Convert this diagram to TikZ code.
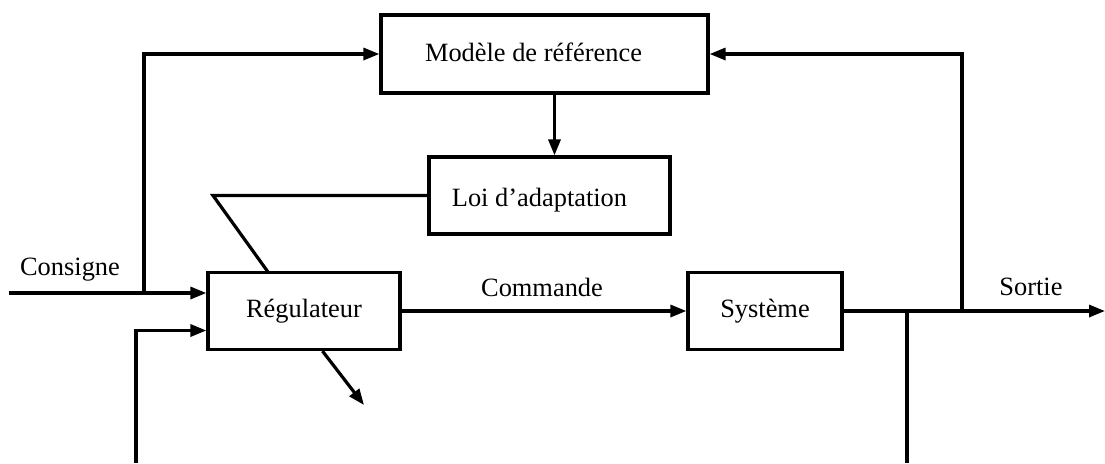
\documentclass[tikz,border=0pt]{standalone}
\usepackage{fontspec}
\setmainfont{Liberation Serif}
\usepackage{tikz}
\usetikzlibrary{arrows.meta,positioning}

\begin{document}
\begin{tikzpicture}[x=0.5pt,y=-0.5pt,line width=1.6pt,
  font=\fontsize{13.2}{16}\selectfont,
  bloc/.style={draw,rectangle,inner sep=0pt,minimum height=38.5pt},
  fleche/.style={-{Triangle[length=8pt,width=6pt]}}]
\useasboundingbox (0,0) rectangle (1105,463);
\node[bloc,minimum width=163.5pt,minimum height=39pt,
  label={[xshift=-5.5pt,yshift=1pt]center:Modèle de référence}] (modele) at (544.5,54) {};
\node[bloc,minimum width=120.5pt,
  label={[xshift=-5pt,yshift=-2.2pt]center:Loi d’adaptation}] (loi) at (549.5,195.5) {};
\node[bloc,minimum width=96pt] (reg) at (304,311) {Régulateur};
\node[bloc,minimum width=77pt] (sys) at (765,311) {Système};
\node (consigne) at (70,270) {Consigne};
\node (commande) at (542,287) {Commande};
\node (sortie) at (1031,287) {Sortie};
\coordinate (entree) at (9,293);
\coordinate (b1) at (144,293);
\coordinate (bas1) at (136,463);
\coordinate (coin) at (213,195.5);
\coordinate (haut) at (268,272);
\coordinate (pointe) at (364,405);
\coordinate (fin) at (1105,311);
\coordinate (b2) at (962,311);
\coordinate (b3) at (907,311);
\coordinate (bas2) at (907,463);
\draw[fleche] (entree) -- ([yshift=9pt]reg.west);
\draw[fleche] (b1) |- (modele.west);
\draw[fleche] (bas1) |- ([yshift=-9.75pt]reg.west);
\draw[fleche] ([xshift=5pt]modele.south) -- ([xshift=5pt]modele.south |- loi.north);
\draw (loi.west) -- (coin) -- (haut);
\draw[fleche] ([xshift=9.25pt]reg.south) -- (pointe);
\draw[fleche] (reg) -- (sys);
\draw[fleche] (sys) -- (fin);
\draw[fleche] (b2) |- (modele.east);
\draw (b3) -- (bas2);
\end{tikzpicture}
\end{document}
